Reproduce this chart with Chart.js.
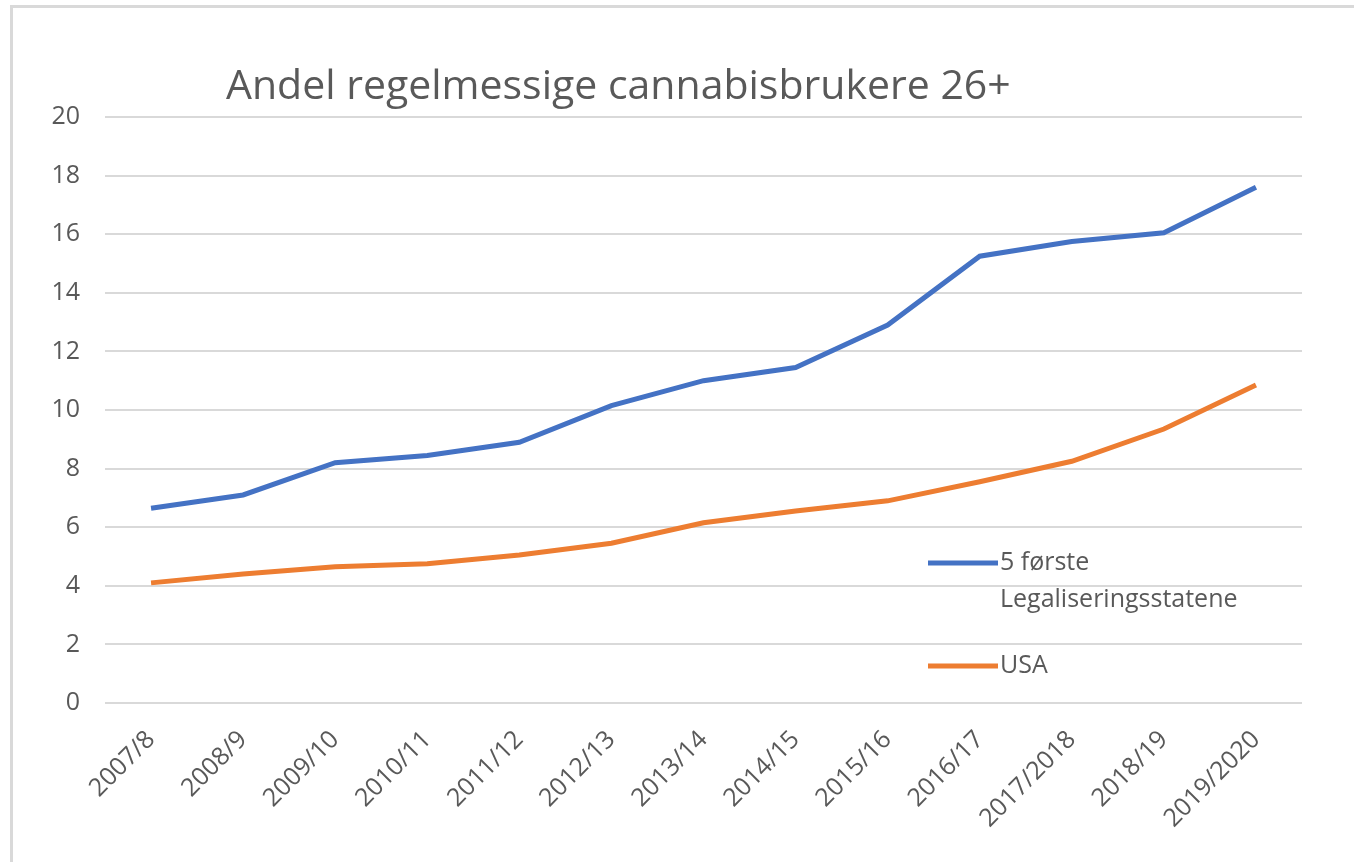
<!DOCTYPE html>
<html>
<head>
<meta charset="utf-8">
<script src="https://cdn.jsdelivr.net/npm/chart.js@4.4.1/dist/chart.umd.min.js"></script>
<style>
  html, body { margin: 0; padding: 0; background: #fff; }
  #wrap { position: relative; width: 1354px; height: 862px; overflow: hidden; }
  #frame { position: absolute; left: 10px; top: 5px; right: -5px; bottom: -5px;
           border-left: 3px solid #d9d9d9; border-top: 3px solid #d9d9d9; }
  canvas { position: absolute; left: 0; top: 0; }
</style>
</head>
<body>
<div id="wrap">
  <div id="frame"></div>
  <canvas id="myChart" width="1354" height="862"></canvas>
</div>
<script>
// data
var labels = ['2007/8', '2008/9', '2009/10', '2010/11', '2011/12', '2012/13', '2013/14',
              '2014/15', '2015/16', '2016/17', '2017/2018', '2018/19', '2019/2020'];
var legalStates = [6.65, 7.1, 8.2, 8.45, 8.9, 10.15, 11.0, 11.45, 12.9, 15.25, 15.75, 16.05, 17.6];
var usa = [4.1, 4.4, 4.65, 4.75, 5.05, 5.45, 6.15, 6.55, 6.9, 7.55, 8.25, 9.35, 10.85];
var titleText = 'Andel regelmessige cannabisbrukere 26+';

var FONT = '"Open Sans", sans-serif';
var GREY = '#595959';

// title and the legend inside the plot, drawn by hand like in the excel original
var extras = {
  id: 'extras',
  afterDraw: function (chart) {
    var c = chart.ctx;
    c.save();
    c.fillStyle = GREY;
    c.font = '41px ' + FONT;
    c.textAlign = 'left';
    c.textBaseline = 'alphabetic';
    c.fillText(titleText, 226, 99);

    var rows = [563, 666];
    c.font = '25px ' + FONT;
    c.textBaseline = 'middle';
    chart.data.datasets.forEach(function (ds, i) {
      var y = rows[i];
      c.strokeStyle = ds.borderColor;
      c.lineWidth = 5;
      c.beginPath();
      c.moveTo(928, y);
      c.lineTo(998, y);
      c.stroke();
      var parts = [].concat(ds.label);
      parts.forEach(function (t, k) {
        c.fillText(t, 1000, y + k * 37);
      });
    });
    c.restore();
  }
};

var ctx = document.getElementById('myChart').getContext('2d');
var chart = new Chart(ctx, {
  type: 'line',
  data: {
    labels: labels,
    datasets: [{
      label: ['5 første', 'Legaliseringsstatene'],
      data: legalStates,
      borderColor: '#4472C4',
      backgroundColor: '#4472C4',
      borderWidth: 5,
      pointRadius: 0,
      tension: 0
    }, {
      label: 'USA',
      data: usa,
      borderColor: '#ED7D31',
      backgroundColor: '#ED7D31',
      borderWidth: 5,
      pointRadius: 0,
      tension: 0
    }]
  },
  options: {
    responsive: false,
    animation: false,
    layout: { padding: { top: 117, right: 52, left: 0, bottom: 0 } },
    plugins: {
      legend: { display: false },
      title: { display: false },
      tooltip: { enabled: false }
    },
    scales: {
      x: {
        offset: true,
        grid: { display: false },
        border: { display: false },
        ticks: {
          color: GREY,
          font: { family: FONT, size: 25 },
          minRotation: 45,
          maxRotation: 45,
          autoSkip: false,
          padding: 14
        },
        afterFit: function (s) { s.height = 159; }
      },
      y: {
        min: 0,
        max: 20,
        grid: { color: '#d9d9d9', lineWidth: 2, drawTicks: false },
        border: { display: false },
        ticks: {
          stepSize: 2,
          color: GREY,
          font: { family: FONT, size: 25 },
          padding: 25
        },
        afterFit: function (s) { s.width = 105; }
      }
    }
  },
  plugins: [extras]
});
</script>
</body>
</html>
